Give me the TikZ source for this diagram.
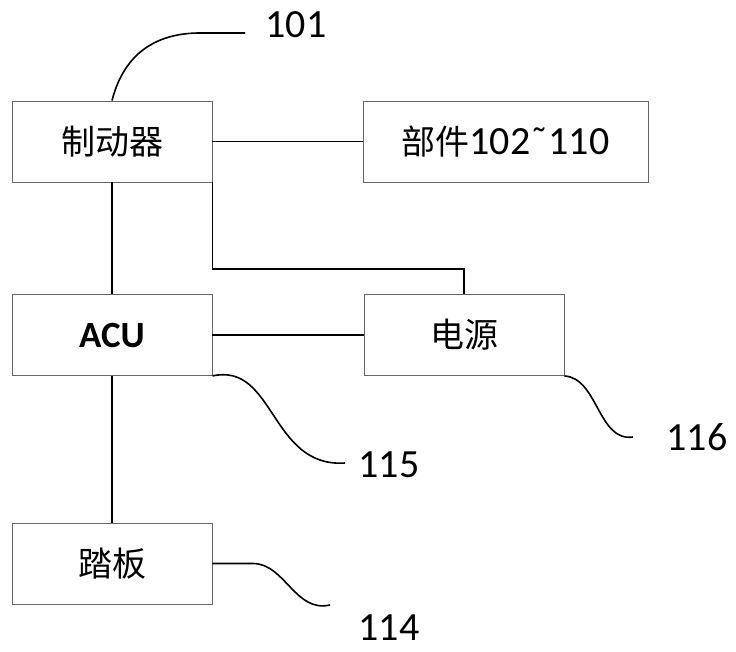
\documentclass[tikz,border=0pt]{standalone}
\usepackage{fontspec}
\setmainfont{Carlito}
\newfontfamily\cjk{Noto Sans CJK SC}
\begin{document}
\begin{tikzpicture}[x=1pt,y=-1pt,
  box/.style={draw=black!60,line width=0.9pt,minimum width=200pt,minimum height=81pt,inner sep=0pt,font=\cjk\fontsize{34}{40}\selectfont},
  wire/.style={line width=1.6pt,black},
  lead/.style={line width=1.6pt,black},
  num/.style={font=\fontsize{40}{44}\selectfont,inner sep=0pt}]
\useasboundingbox (0,0) rectangle (736,651);
\node[box] (zd) at (112,141.5) {制动器};
\node[box,minimum width=285pt] (bj) at (505.5,141.5) {部件{\rmfamily\fontsize{40}{44}\selectfont 102\char"02DC\relax 110}};
\node[box] (acu) at (112,335) {\rmfamily\bfseries\fontsize{37}{40}\selectfont ACU};
\node[box] (dy) at (464,335) {电源};
\node[box] (tb) at (112,563.5) {踏板};
\draw[wire] (zd.east) -- (bj.west);
\draw[wire] (zd.south) -- (acu.north);
\draw[wire] (acu.south) -- (tb.north);
\draw[wire] (acu.east) -- (dy.west);
\draw[wire] (zd.south east) |- (464,269) -- (dy.north);
\node[num] (l101) at (296,25) {101};
\node[num] (l115) at (389,465) {115};
\node[num] (l116) at (697,437) {116};
\node[num] (l114) at (389,628) {114};
\coordinate (c101) at (245,33);
\coordinate (c115) at (345,463);
\coordinate (c116) at (633,437);
\coordinate (c114) at (330,605);
\draw[lead] (zd.north) .. controls (125,50) and (160,33) .. (200,33) -- (c101);
\draw[lead] (acu.south east) .. controls (275,362) and (270,468) .. (c115);
\draw[lead] (dy.south east) .. controls (598,378) and (598,442) .. (c116);
\draw[lead] (tb.east) -- (253,563.5) .. controls (285,563.5) and (295,613) .. (c114);
\end{tikzpicture}
\end{document}
